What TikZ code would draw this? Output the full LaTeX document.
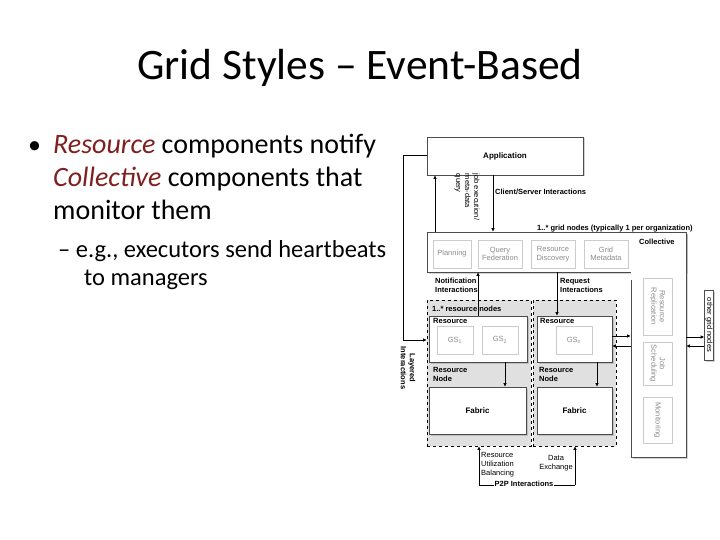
\documentclass[tikz,border=0pt]{standalone}
\usepackage{fontspec}
\setmainfont{Carlito}
\newfontfamily\dfont{Liberation Sans}
\usetikzlibrary{shadows,arrows.meta}
\definecolor{accent}{HTML}{7F1F1F}
\begin{document}
\begin{tikzpicture}[x=1pt,y=-1pt,
  bx/.style={draw=black!70,fill=white,line width=0.6pt,inner sep=0,drop shadow={opacity=.35,shadow xshift=1.5pt,shadow yshift=-1.5pt}},
  gbx/.style={draw=black!20,fill=white,inner sep=0,font=\dfont\fontsize{7.5}{8.5}\selectfont,text=black!45,align=center},
  lbl/.style={font=\dfont\bfseries\fontsize{7.5}{9}\selectfont,align=left,inner sep=0},
  sm/.style={font=\dfont\fontsize{7.5}{9}\selectfont,align=left,inner sep=0},
  arr/.style={line width=0.6pt,-{Latex[length=3.5pt,width=3.5pt]}},
  reg/.style={draw,dashed,fill=black!12,line width=0.6pt,inner sep=0}]
\useasboundingbox (0,0) rectangle (720,540);
\node[font=\fontsize{43.5}{48}\selectfont] (title) at (360,68) {Grid Styles – Event-Based};
\node[anchor=west,inner sep=0,font=\fontsize{26}{30}\selectfont] (b1) at (28,148) {•};
\node[anchor=north west,inner sep=0,align=left,font=\fontsize{28}{33}\selectfont] (t1) at (53,134) {\textcolor{accent}{\textit{Resource}} components notify\\\textcolor{accent}{\textit{Collective}} components that\\monitor them};
\node[anchor=north west,inner sep=0,align=left,font=\fontsize{24.5}{28}\selectfont] (t2) at (58,240) {– e.g., executors send heartbeats\\\hspace{26pt}to managers};
% regions
\node[reg,minimum width=104,minimum height=146] (regL) at (479,373) {};
\node[reg,minimum width=83,minimum height=146] (regR) at (574.5,373) {};
% big right column
\node[bx,minimum width=55,minimum height=225] (col) at (658.5,344.5) {};
\node[bx,minimum width=259,minimum height=40] (coll) at (556.5,252) {};
\fill[white] (631.3,250) rectangle (685.7,280);
\node[lbl,anchor=west] (colllbl) at (639,242) {Collective};
\node[gbx,minimum width=38,minimum height=28] (plan) at (452,254) {Planning};
\node[gbx,minimum width=44,minimum height=28] (qf) at (500,254) {Query\\Federation};
\node[gbx,minimum width=44,minimum height=28] (rd) at (553,254) {Resource\\Discovery};
\node[gbx,minimum width=44,minimum height=28] (gm) at (606,254) {Grid\\Metadata};
\node[gbx,minimum width=29,minimum height=57] (rr) at (657.5,306.5) {\rotatebox{-90}{\shortstack{Resource\\Replication}}};
\node[gbx,minimum width=29,minimum height=43] (js) at (657.5,363.5) {\rotatebox{-90}{\shortstack{Job\\Scheduling}}};
\node[gbx,minimum width=29,minimum height=46] (mon) at (657.5,420) {\rotatebox{-90}{Monitoring}};
% application
\node[bx,minimum width=156,minimum height=38,font=\dfont\bfseries\fontsize{8}{9}\selectfont] (app) at (505,156) {Application};
% other grid nodes
\node[bx,minimum width=9,minimum height=70,font=\dfont\fontsize{7.5}{8}\selectfont] (other) at (709,325) {\rotatebox{-90}{other grid nodes}};
% resources
\node[bx,minimum width=98,minimum height=46] (resL) at (478,339) {};
\node[lbl,anchor=west] at (433,321) {Resource};
\node[gbx,minimum width=36,minimum height=28] (gs1) at (455,340) {GS\textsubscript{1}};
\node[gbx,minimum width=36,minimum height=28] (gs2) at (500,340) {GS\textsubscript{2}};
\node[bx,minimum width=75,minimum height=46] (resR) at (574.5,339) {};
\node[lbl,anchor=west] at (540,321) {Resource};
\node[gbx,minimum width=36,minimum height=28] (gsn) at (574,340) {GS\textsubscript{n}};
\node[lbl,anchor=north west] at (433,367) {Resource\\Node};
\node[lbl,anchor=north west] at (539,367) {Resource\\Node};
\node[bx,minimum width=97,minimum height=47,font=\dfont\bfseries\fontsize{8}{9}\selectfont] (fabL) at (477.5,410.5) {Fabric};
\node[bx,minimum width=75,minimum height=47,font=\dfont\bfseries\fontsize{8}{9}\selectfont] (fabR) at (574.5,410.5) {Fabric};
\node[lbl,anchor=west] at (432,309) {1..* resource nodes};
% labels
\node[lbl,anchor=west] at (495,192) {Client/Server Interactions};
\node[lbl,anchor=west] at (537,229) {1..* grid nodes (typically 1 per organization)};
\node[lbl,anchor=north west] at (435,278) {Notification\\Interactions};
\node[lbl,anchor=north west] at (560,278) {Request\\Interactions};
\node[sm,rotate=-90] at (467,197) {job execution/\\meta-data\\query};
\node[lbl,rotate=-90,align=center] at (408,368) {Layered\\Interactions};
\node[sm,anchor=north west] at (481,452) {Resource\\Utilization\\Balancing};
\node[sm,align=center] at (556,463) {Data\\Exchange};
% connectors
\coordinate (c1) at (403,155);
\coordinate (c2) at (403,340);
\draw[arr] (app.west|-c1) -- (c1) -- (c2) -- (regL.west|-c2);
\draw[arr] (coll.north-|435,0) -- (app.south-|435,0);
\draw[arr] (app.south-|493,0) -- (coll.north-|493,0);
\draw[arr] (resL.north-|478,0) -- (coll.south-|478,0);
\draw[arr] (coll.south-|557,0) -- (resR.north-|557,0);
\draw[arr] (resL.south-|505,0) -- (fabL.north-|505,0);
\draw[arr] (resR.south-|597,0) -- (fabR.north-|597,0);
\draw[arr] (resR.east|-0,336) -- (col.west|-0,336);
\draw[arr] (col.west|-0,346) -- (resR.east|-0,346);
\draw[arr] (col.east|-0,337) -- (other.west|-0,337);
\draw[arr] (other.west|-0,346) -- (col.east|-0,346);
\coordinate (p1) at (479,485);
\coordinate (p2) at (575,485);
\draw (p1) -- (p2);
\node[lbl,fill=white,inner sep=1pt] (p2p) at (524,484) {P2P Interactions};
\draw[arr] (p1) -- (regL.south-|p1);
\draw[arr] (p2) -- (regR.south-|p2);
\end{tikzpicture}
\end{document}
